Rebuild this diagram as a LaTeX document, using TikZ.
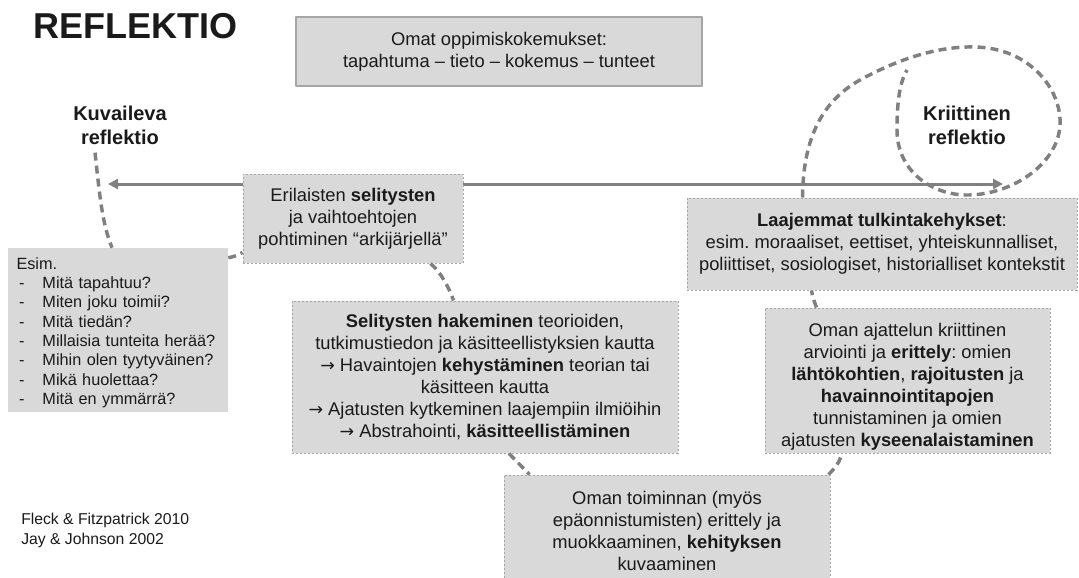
\documentclass[tikz,border=0pt]{standalone}
\usepackage{fontspec}
\setmainfont{Liberation Sans}
\newfontfamily\nuolifont[Scale=0.95]{DejaVu Sans}
\usetikzlibrary{arrows.meta,calc}
\definecolor{pohja}{HTML}{D9D9D9}
\definecolor{viiva}{HTML}{808080}
\definecolor{reuna}{HTML}{A6A6A6}
\definecolor{musta}{HTML}{1A1A1A}
\newcommand{\rivi}[1]{\makebox[19.5pt][l]{\,-}#1}
\newcommand{\nuoli}{{\nuolifont →}}
\frenchspacing
\begin{document}
\begin{tikzpicture}[x=0.75pt,y=-0.75pt, line join=round,
    every node/.style={text=musta},
    runko/.style={fill=pohja, align=center, inner sep=0pt, font=\fontsize{13.75}{16.5}\selectfont},
    kehys/.style={runko, draw=reuna, line width=0.75pt, dash pattern=on 1.5pt off 1.5pt},
    yla/.style={runko, draw=reuna, line width=1.2pt},
    tyyppi/.style={align=center, inner sep=0pt, font=\bfseries\fontsize{15}{18}\selectfont},
    yhteys/.style={draw=viiva, line width=2.6pt, dash pattern=on 6pt off 3.8pt},
    akseli/.style={draw=viiva, line width=2.25pt, {Triangle[length=7.5pt,width=7.5pt]}-{Triangle[length=7.5pt,width=7.5pt]}}]
  \def\px{0.75pt}
  \useasboundingbox (0,0) rectangle (1079,578);
  \coordinate (vasen) at (108,184);
  \coordinate (oikea) at (1003,184);
  \coordinate (kierre) at (907,70);
  \draw[akseli] (vasen) -- (oikea);
  \node[anchor=west, inner sep=0pt, font=\bfseries\fontsize{27}{32}\selectfont] (otsikko) at (33,26) {REFLEKTIO};
  \node[yla, minimum width=406*\px, minimum height=69*\px] (kokemus) at (499,51.5)
    {Omat oppimiskokemukset:\\tapahtuma – tieto – kokemus – tunteet};
  \node[tyyppi] (kuvaileva) at (120,125) {Kuvaileva\\reflektio};
  \node[tyyppi] (kriittinen) at (967,125) {Kriittinen\\reflektio};
  \node[kehys, minimum width=220*\px, minimum height=89*\px] (arki) at (353,218.5)
    {Erilaisten \textbf{selitysten}\\ja vaihtoehtojen\\pohtiminen “arkijärjellä”};
  \node[runko, align=left, text width=203*\px, minimum width=220*\px, minimum height=164*\px,
    font=\fontsize{12.2}{14.5}\selectfont] (esim) at (118,330)
    {\rule{0pt}{13pt}Esim.\\\rivi{Mitä tapahtuu?}\\\rivi{Miten joku toimii?}\\\rivi{Mitä tiedän?}\\
     \rivi{Millaisia tunteita herää?}\\\rivi{Mihin olen tyytyväinen?}\\\rivi{Mikä huolettaa?}\\
     \rivi{Mitä en ymmärrä?}};
  \node[kehys, minimum width=386*\px, minimum height=152*\px] (teoria) at (485,377)
    {\textbf{Selitysten hakeminen} teorioiden,\\tutkimustiedon ja käsitteellistyksien kautta\\
     \nuoli{} Havaintojen \textbf{kehystäminen} teorian tai\\käsitteen kautta\\
     \nuoli{} Ajatusten kytkeminen laajempiin ilmiöihin\\\nuoli{} Abstrahointi, \textbf{käsitteellistäminen}};
  \node[kehys, minimum width=326*\px, minimum height=103*\px] (toiminta) at (667,526.5)
    {\rule{0pt}{16pt}Oman toiminnan (myös\\epäonnistumisten) erittely ja\\muokkaaminen, \textbf{kehityksen}\\kuvaaminen};
  \node[kehys, minimum width=390*\px, minimum height=92*\px] (tulkinta) at (882,244)
    {\textbf{Laajemmat tulkintakehykset}:\\esim. moraaliset, eettiset, yhteiskunnalliset,\\
     poliittiset, sosiologiset, historialliset kontekstit};
  \node[kehys, minimum width=285*\px, minimum height=145*\px] (ajattelu) at (907.5,380.5)
    {\rule{0pt}{19pt}Oman ajattelun kriittinen\\arviointi ja \textbf{erittely}: omien\\\textbf{lähtökohtien}, \textbf{rajoitusten} ja\\
     \textbf{havainnointitapojen}\\tunnistaminen ja omien\\ajatusten \textbf{kyseenalaistaminen}};
  \node[anchor=west, align=left, inner sep=0pt, font=\fontsize{11.8}{15}\selectfont] (lahteet) at (21,530)
    {Fleck \& Fitzpatrick 2010\\Jay \& Johnson 2002};
  \draw[yhteys] ($(kuvaileva.south)+(-25,8)$) .. controls +(5,45) and +(-10,-25) .. ($(esim.north)+(-6,0)$);
  \draw[yhteys] ($(esim.north east)+(0,10)$) .. controls +(6,-1) and +(-6,3) .. ($(arki.south west)+(0,-11)$);
  \draw[yhteys] ($(arki.south east)+(-33,0)$) .. controls +(10,8) and +(-4,-12) .. ($(teoria.north west)+(162,0)$);
  \draw[yhteys] ($(teoria.south)+(24,0)$) -- ($(toiminta.north west)+(26,0)$);
  \draw[yhteys] ($(toiminta.north east)+(-2,0)$) .. controls +(6,-6) and +(-1,8) .. ($(ajattelu.south west)+(77,0)$);
  \draw[yhteys] ($(ajattelu.north west)+(52,0)$) .. controls +(-3,-8) and +(1,6) .. ($(tulkinta.south west)+(125,0)$);
  \draw[yhteys] ($(tulkinta.north west)+(116,0)$) .. controls (803,150) and (815,105) .. (860,80)
    .. controls (900,58) and (940,46) .. (975,47) .. controls (1030,48) and (1062,90) .. (1060,125)
    .. controls (1058,165) and (1010,196) .. (965,195) .. controls (930,194) and (897,170) .. (897,130)
    .. controls (897,100) and (900,82) .. (kierre);
\end{tikzpicture}
\end{document}
